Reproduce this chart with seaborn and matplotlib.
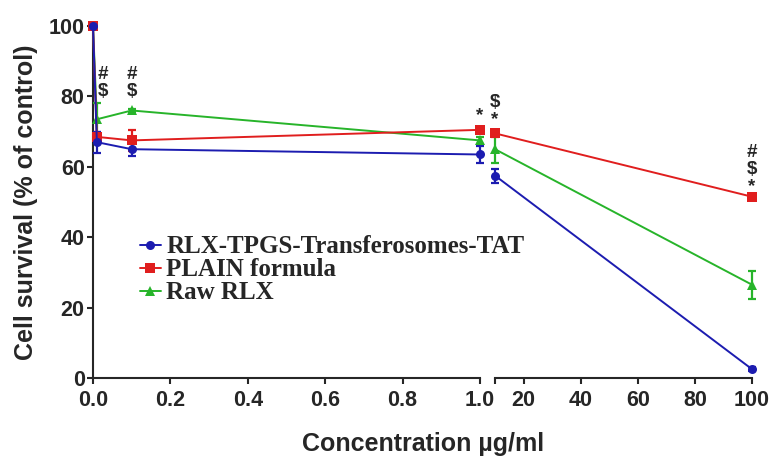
import seaborn as sns
import matplotlib.pyplot as plt
import pandas as pd

# datos (media y desviacion)
conc = [0, 0.01, 0.1, 1.0, 10, 100]
series = ["RLX-TPGS-Transferosomes-TAT", "PLAIN formula", "Raw RLX"]
tat_mean = [100, 67.0, 65.0, 63.5, 57.5, 2.5]
tat_sd = [0, 3.0, 2.0, 2.5, 2.0, 0.5]
plain_mean = [100, 68.5, 67.5, 70.5, 69.5, 51.5]
plain_sd = [0, 1.5, 3.0, 0.5, 1.0, 0.5]
raw_mean = [100, 73.5, 76.0, 67.5, 65.0, 26.5]
raw_sd = [0, 4.5, 0.5, 1.0, 4.0, 4.0]

# marcas de significancia: (concentracion, posicion y, texto)
marcas = [(0.025, 79, "#\n$"), (0.1, 79, "#\n$"), (1.0, 72, "*"),
          (10, 71, "$\n*"), (100, 52, "#\n$\n*")]

colores = {series[0]: "#1c1cb0", series[1]: "#e01e1e", series[2]: "#27b42a"}
marcadores = {series[0]: "o", series[1]: "s", series[2]: "^"}

filas = []
for nombre, medias, sds in zip(series, [tat_mean, plain_mean, raw_mean], [tat_sd, plain_sd, raw_sd]):
    for c, m, s in zip(conc, medias, sds):
        filas.append({"Conc": c, "Survival": m, "SD": s, "Formula": nombre})
df = pd.DataFrame(filas)

sns.set_style("ticks")
plt.rcParams["font.family"] = ["Liberation Sans", "DejaVu Sans"]

fig = plt.figure(figsize=(7.78, 4.66), dpi=100)
ax1 = fig.add_axes([93 / 778, 1 - 378 / 466, (480 - 93) / 778, (378 - 26) / 466])
ax2 = fig.add_axes([495 / 778, 1 - 378 / 466, (752 - 495) / 778, (378 - 26) / 466])

orden = [series[2], series[1], series[0]]
for ax, tramo in [(ax1, df[df["Conc"] <= 1.0]), (ax2, df[df["Conc"] >= 10])]:
    for nombre in orden:
        sub = tramo[tramo["Formula"] == nombre]
        ax.errorbar(sub["Conc"], sub["Survival"], yerr=sub["SD"], fmt="none",
                    ecolor=colores[nombre], elinewidth=1.6, capsize=3, capthick=1.6,
                    clip_on=False, zorder=3)
    sns.lineplot(data=tramo, x="Conc", y="Survival", hue="Formula", style="Formula",
                 hue_order=orden, style_order=orden, palette=colores, markers=marcadores,
                 dashes=False, markersize=6.5, markeredgewidth=0, linewidth=1.4,
                 legend=(ax is ax1), ax=ax, clip_on=False, zorder=4)
    ax.set_ylim(0, 100)
    ax.set_xlabel("")
    ax.set_ylabel("")
    sns.despine(ax=ax)
    ax.tick_params(width=1.5, length=4, pad=2, labelsize=15.5)
    ax.tick_params(axis="x", pad=5)
    for sp in ax.spines.values():
        sp.set_linewidth(1.5)

ax1.set_xlim(0, 1.0)
ax1.set_xticks([0, 0.2, 0.4, 0.6, 0.8, 1.0])
ax1.set_xticklabels(["0.0", "0.2", "0.4", "0.6", "0.8", "1.0"], fontweight="bold")
ax1.set_yticks([0, 20, 40, 60, 80, 100])
ax1.set_yticklabels(["0", "20", "40", "60", "80", "100"], fontweight="bold")
ax1.set_ylabel("Cell survival (% of control)", fontsize=18, fontweight="bold", labelpad=8)

ax2.set_xlim(10, 100)
ax2.set_xticks([10, 20, 40, 60, 80, 100])
ax2.set_xticklabels(["", "20", "40", "60", "80", "100"], fontweight="bold")
ax2.spines["left"].set_visible(False)
ax2.set_yticks([])
ax2.patch.set_alpha(0)

fig.text(423 / 778, 1 - 444 / 466, "Concentration \u00b5g/ml", ha="center",
         va="center", fontsize=18, fontweight="bold")

for c, y, t in marcas:
    ax = ax1 if c <= 1.0 else ax2
    ax.text(c, y, t, ha="center", va="bottom", fontsize=13.5, fontweight="bold",
            linespacing=1.0, clip_on=False)

h, l = ax1.get_legend_handles_labels()
orden_leg = [l.index(s) for s in series]
ax1.legend([h[i] for i in orden_leg], [l[i] for i in orden_leg], loc="upper left",
           bbox_to_anchor=(0.121, 0.405), frameon=False, handlelength=0.85,
           handletextpad=0.2, borderpad=0.0, borderaxespad=0.0,
           prop={"family": "Liberation Serif", "weight": "bold", "size": 18},
           labelspacing=0.0)

plt.savefig("out.png", dpi=100)
plt.close()
